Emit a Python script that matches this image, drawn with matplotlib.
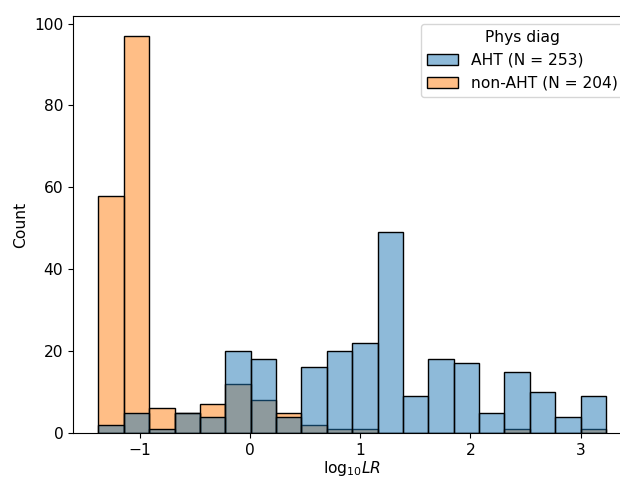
import numpy as np
import pandas as pd
import matplotlib
matplotlib.use('Agg')
import matplotlib.pyplot as plt
import seaborn as sns

# histogram of log10 LR, 20 equal bins
BIN_LO, BIN_HI, N_BINS = -1.376, 3.23, 20

aht_counts = [2, 5, 1, 5, 4, 20, 18, 4, 16, 20,
              22, 49, 9, 18, 17, 5, 15, 10, 4, 9]
non_aht_counts = [58, 97, 6, 5, 7, 12, 8, 5, 2, 1,
                  1, 0, 0, 0, 0, 0, 1, 0, 0, 1]
groups = ['AHT', 'non-AHT']

edges = np.linspace(BIN_LO, BIN_HI, N_BINS + 1)
centers = (edges[:-1] + edges[1:]) / 2

frames = []
for name, counts in zip(groups, [aht_counts, non_aht_counts]):
    label = f'{name} (N = {sum(counts)})'
    frames.append(pd.DataFrame({'log10LR': centers, 'w': counts, 'Phys diag': label}))
df = pd.concat(frames, ignore_index=True)

plt.rcParams['font.size'] = 11.2

fig = plt.figure(figsize=(6.2, 4.78), dpi=100)
ax = fig.add_axes([73 / 620, 45 / 478, 558.4 / 620, 417 / 478])

sns.histplot(data=df, x='log10LR', weights='w', hue='Phys diag',
             bins=N_BINS, binrange=(BIN_LO, BIN_HI), ax=ax)
sns.move_legend(ax, 'upper right')

ax.set_xlabel(r'$\mathrm{log}_{10}LR$', labelpad=1)
ax.set_ylabel('Count')

fig.savefig('out.png', dpi=100)
